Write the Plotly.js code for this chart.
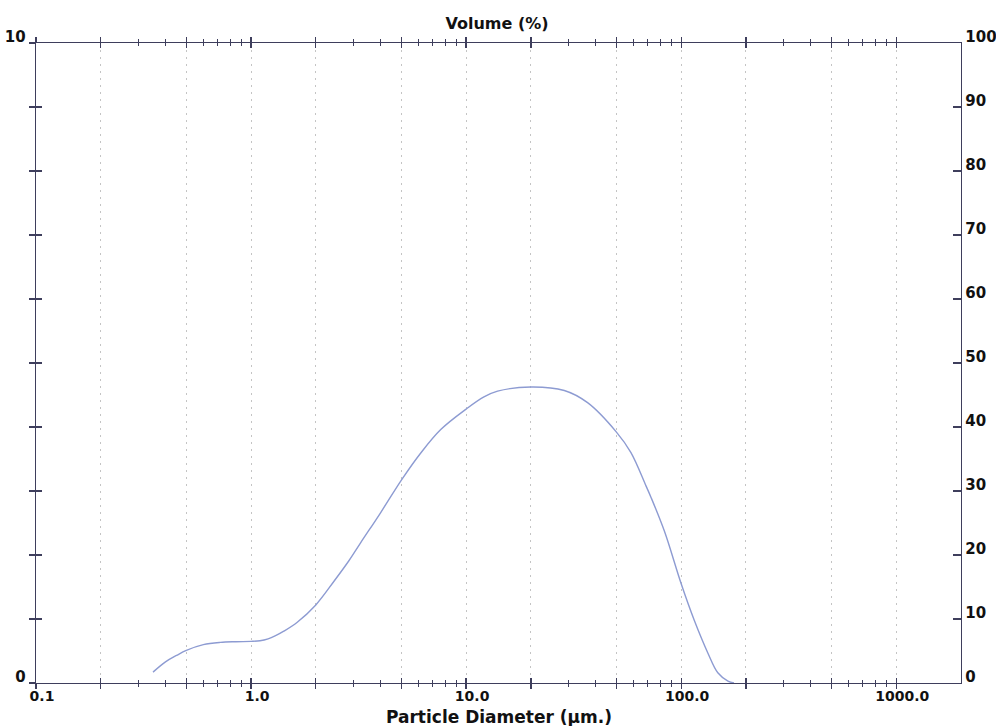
<!DOCTYPE html>
<html>
<head>
<meta charset="utf-8">
<script src="https://cdn.plot.ly/plotly-3.0.1.min.js"></script>
<style>html,body{margin:0;padding:0;background:#fff;}#chart{width:996px;height:726px;}</style>
</head>
<body>
<div id="chart"></div>
<script>
// Particle size distribution
const diameter = [0.35, 0.40, 0.45, 0.50, 0.60, 0.72, 0.85, 1.0, 1.1, 1.2, 1.3, 1.42, 1.64, 2.0, 2.43, 2.85, 3.23, 4.0, 5.0, 6.14, 7.62, 10.0, 12.1, 14.0, 20.0, 28.6, 36.7, 50.0, 58.4, 68.6, 72.4, 83.6, 100, 115, 133, 148, 165, 176];
const volume   = [0.17, 0.33, 0.43, 0.51, 0.60, 0.635, 0.645, 0.65, 0.66, 0.69, 0.74, 0.81, 0.95, 1.22, 1.59, 1.91, 2.19, 2.66, 3.17, 3.59, 3.96, 4.28, 4.47, 4.56, 4.625, 4.57, 4.38, 3.92, 3.60, 3.08, 2.90, 2.37, 1.55, 0.98, 0.47, 0.16, 0.03, 0];

const gridVals   = [0.1, 0.2, 0.5, 1, 2, 5, 10, 20, 50, 100, 200, 500, 1000];
const gridLabels = ["0.1", "", "", "1.0", "", "", "10.0", "", "", "100.0", "", "", "1000.0"];
const minorVals  = [0.3, 0.4, 0.6, 0.7, 0.8, 0.9, 3, 4, 6, 7, 8, 9, 30, 40, 60, 70, 80, 90, 300, 400, 600, 700, 800, 900];
const leftVals   = [0, 1, 2, 3, 4, 5, 6, 7, 8, 9, 10];
const leftLabels = ["0", "", "", "", "", "", "", "", "", "", "10"];
const rightVals  = [0, 10, 20, 30, 40, 50, 60, 70, 80, 90, 100];
const xTitle = 'Particle Diameter (µm.)';
const mainTitle = 'Volume (%)';

const xRange = [Math.log10(0.1), Math.log10(2000)];
const axisColor = '#3e3e5c';
const fnt = {family: 'DejaVu Sans', size: 15, color: '#111'};
const xfnt = {family: 'DejaVu Sans', size: 14, color: '#111'};

const traces = [
  {x: diameter, y: volume, type: 'scatter', mode: 'lines',
   line: {color: '#8d9bd2', width: 1.4, shape: 'spline', smoothing: 1},
   hoverinfo: 'x+y', showlegend: false},
  {x: [], y: [], xaxis: 'x2', yaxis: 'y3', type: 'scatter', mode: 'lines', showlegend: false, hoverinfo: 'skip'},
  {x: [], y: [], xaxis: 'x', yaxis: 'y2', type: 'scatter', mode: 'lines', showlegend: false, hoverinfo: 'skip'}
];

const layout = {
  width: 996, height: 726,
  margin: {l: 36, r: 35, t: 43, b: 43},
  paper_bgcolor: '#fff', plot_bgcolor: '#fff',
  font: {family: 'DejaVu Sans', size: 15, color: '#111'},
  title: {text: '<b>' + mainTitle + '</b>', font: {family: 'DejaVu Sans', size: 16, color: '#111'},
          x: 0.499, xanchor: 'center', y: 1 - 23/726, yanchor: 'middle'},
  annotations: [{
    text: '<b>' + xTitle + '</b>', xref: 'paper', yref: 'paper', x: 0.5, y: -21.5/640,
    xanchor: 'center', yanchor: 'top', showarrow: false,
    font: {family: 'DejaVu Sans', size: 17, color: '#111'}
  }],
  xaxis: {
    type: 'log', range: xRange, autorange: false,
    tickmode: 'array', tickvals: gridVals, showticklabels: false,
    ticks: 'outside', ticklen: 5, tickwidth: 1.3, tickcolor: axisColor,
    showline: true, linecolor: axisColor, linewidth: 1.3, mirror: 'ticks',
    showgrid: true, gridcolor: '#c4c4c4', gridwidth: 1, griddash: '2px,5px',
    zeroline: false,
    minor: {tickmode: 'array', tickvals: minorVals, ticks: 'outside', ticklen: 3, tickwidth: 1, tickcolor: axisColor, showgrid: false}
  },
  xaxis2: {
    type: 'log', range: xRange, autorange: false, overlaying: 'x', anchor: 'y3', side: 'bottom',
    tickmode: 'array', tickvals: gridVals, ticktext: gridLabels.map(t => t ? '<b>' + t + '</b>' : ''),
    tickfont: xfnt, ticklabelshift: 6,
    ticks: 'inside', ticklen: 5, tickwidth: 1.3, tickcolor: axisColor,
    showline: true, linecolor: axisColor, linewidth: 1.3, mirror: 'ticks',
    showgrid: false, zeroline: false,
    minor: {tickmode: 'array', tickvals: minorVals, ticks: 'inside', ticklen: 3, tickwidth: 1, tickcolor: axisColor, showgrid: false}
  },
  yaxis: {
    range: [0, 10], autorange: false,
    tickmode: 'array', tickvals: leftVals, ticktext: leftLabels.map(t => t ? '<b>' + t + '</b>' : ''),
    ticks: 'outside', ticklen: 6, tickwidth: 1.3, tickcolor: axisColor,
    showline: true, linecolor: axisColor, linewidth: 1.3,
    showgrid: false, zeroline: false, tickfont: fnt, ticklabelshift: -6
  },
  yaxis3: {
    range: [0, 10], autorange: false, overlaying: 'y', anchor: 'x2', side: 'left',
    tickmode: 'array', tickvals: leftVals, showticklabels: false,
    ticks: 'inside', ticklen: 6, tickwidth: 1.3, tickcolor: axisColor,
    showline: false, showgrid: false, zeroline: false
  },
  yaxis2: {
    range: [0, 100], autorange: false, overlaying: 'y', anchor: 'x', side: 'right',
    tickmode: 'array', tickvals: rightVals, ticktext: rightVals.map(v => '<b>' + v + '</b>'),
    ticks: 'inside', ticklen: 8, tickwidth: 1.3, tickcolor: axisColor,
    showline: true, linecolor: axisColor, linewidth: 1.3,
    showgrid: false, zeroline: false, tickfont: fnt, ticklabelshift: -6
  }
};

Plotly.newPlot('chart', traces, layout, {displayModeBar: false, staticPlot: true});
</script>
</body>
</html>
